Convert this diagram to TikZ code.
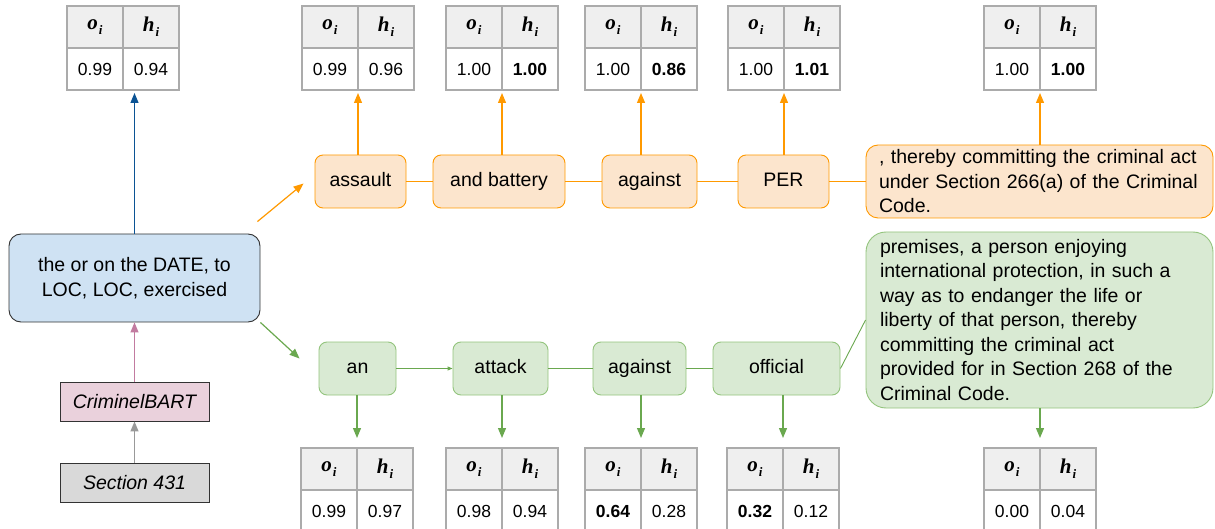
\documentclass[tikz,border=0pt]{standalone}
\usepackage{fontspec}
\setmainfont{Liberation Sans}
\newfontfamily\hdrfont{Liberation Serif}
\usetikzlibrary{arrows.meta}

\definecolor{orangeln}{HTML}{FF9900}
\definecolor{orangebg}{HTML}{FCE5CD}
\definecolor{greenln}{HTML}{6AA84F}
\definecolor{greenbd}{HTML}{93C47D}
\definecolor{greenbg}{HTML}{D9EAD3}
\definecolor{bluebg}{HTML}{CFE2F3}
\definecolor{blueln}{HTML}{0B5394}
\definecolor{pinkbg}{HTML}{EAD1DC}
\definecolor{pinkln}{HTML}{C27BA0}
\definecolor{greybg}{HTML}{D9D9D9}
\definecolor{greyln}{HTML}{999999}
\definecolor{cellbd}{HTML}{ABABAB}
\definecolor{cellhd}{HTML}{EFEFEF}

\newcommand{\hdr}[1]{{\hdrfont\bfseries\itshape\fontsize{21}{21}\selectfont #1\kern1pt\raisebox{-0.55ex}{\fontsize{13}{13}\selectfont i}}}
\newcommand{\scoretab}[5]{%
  \node[hcell, anchor=north east] (#1-oh) at (#2,#3) {\hdr{o}};
  \node[hcell, anchor=north west] (#1-hh) at (#2,#3) {\hdr{h}};
  \node[vcell, anchor=north] (#1-ov) at (#1-oh.south) {#4};
  \node[vcell, anchor=north] (#1-hv) at (#1-hh.south) {#5};
}

\begin{document}
\begin{tikzpicture}[x=1pt, y=-1pt,
  font=\fontsize{19.5}{24.5}\selectfont,
  hcell/.style={draw=cellbd, line width=1.2pt, fill=cellhd, minimum width=56pt, minimum height=42pt, inner sep=0pt, outer sep=0pt},
  vcell/.style={draw=cellbd, line width=1.2pt, fill=white, minimum width=56pt, minimum height=42pt, inner sep=0pt, outer sep=0pt, font=\fontsize{17.5}{20}\selectfont},
  wordo/.style={draw=orangeln, line width=0.9pt, fill=orangebg, rounded corners=8pt, minimum height=53pt, inner sep=0pt, text height=14pt, text depth=4.5pt},
  wordg/.style={draw=greenbd, line width=0.9pt, fill=greenbg, rounded corners=8pt, minimum height=53pt, inner sep=0pt, text height=14pt, text depth=4.5pt},
  plainbox/.style={draw=black!80, line width=0.9pt, minimum width=149pt, minimum height=39pt, inner sep=0pt, font=\fontsize{19.5}{24.5}\selectfont\itshape},
  oarrow/.style={draw=orangeln, line width=1.2pt, -{Triangle[length=10pt,width=8pt]}},
  garrow/.style={draw=greenln, line width=1.2pt, -{Triangle[length=10pt,width=8pt]}},
  oline/.style={draw=orangeln, line width=0.9pt},
  gline/.style={draw=greenln, line width=0.9pt}]
  \useasboundingbox (0,0) rectangle (1215,529);
  \clip (0,0) rectangle (1215,529);

  % input side
  \node[draw=black!80, line width=0.9pt, fill=bluebg, rounded corners=12pt, minimum width=251pt, minimum height=88pt, align=center] (ctx) at (134.5,278) {the or on the DATE, to\\LOC, LOC, exercised};
  \node[plainbox, fill=pinkbg] (model) at (134.5,401.5) {CriminelBART};
  \node[plainbox, fill=greybg] (sec) at (134.5,482.5) {Section 431};

  % upper beam
  \node[wordo, minimum width=91pt] (o1) at (360.5,181.5) {assault};
  \node[wordo, minimum width=132pt] (o2) at (499,181.5) {and battery};
  \node[wordo, minimum width=95pt] (o3) at (649.5,181.5) {against};
  \node[wordo, minimum width=91pt] (o4) at (783.5,181.5) {PER};
  \node[wordo, rounded corners=12pt, minimum width=347pt, minimum height=73pt, text width=321pt, inner xsep=13pt, text height=, text depth=, align=left] (o5) at (1039.5,181.5)
    {, thereby committing the criminal act\\under Section 266(a) of the Criminal\\Code.};

  % lower beam
  \node[wordg, minimum width=77pt] (g1) at (357.5,368.5) {an};
  \node[wordg, minimum width=95pt] (g2) at (500.5,368.5) {attack};
  \node[wordg, minimum width=93pt] (g3) at (639.5,368.5) {against};
  \node[wordg, minimum width=127pt] (g4) at (776.5,368.5) {official};
  \node[wordg, rounded corners=20pt, minimum width=347pt, minimum height=176pt, text width=319pt, inner xsep=14pt, text height=, text depth=, align=left] (g5) at (1039.5,320)
    {premises, a person enjoying\\international protection, in such a\\way as to endanger the life or\\liberty of that person, thereby\\committing the criminal act\\provided for in Section 268 of the\\Criminal Code.};

  % score tables
  \scoretab{t0}{123}{6}{0.99}{0.94}
  \scoretab{t1}{358}{6}{0.99}{0.96}
  \scoretab{t2}{502}{6}{1.00}{\textbf{1.00}}
  \scoretab{t3}{641}{6}{1.00}{\textbf{0.86}}
  \scoretab{t4}{784}{6}{1.00}{\textbf{1.01}}
  \scoretab{t5}{1040}{6}{1.00}{\textbf{1.00}}
  \scoretab{b1}{357}{448}{0.99}{0.97}
  \scoretab{b2}{502}{448}{0.98}{0.94}
  \scoretab{b3}{641}{448}{\textbf{0.64}}{0.28}
  \scoretab{b4}{783}{448}{\textbf{0.32}}{0.12}
  \scoretab{b5}{1040}{448}{0.00}{0.04}

  % connectors
  \draw[greyln, line width=1.2pt, -{Triangle[length=10pt,width=8pt]}] (sec) -- (model);
  \draw[pinkln, line width=1.2pt, -{Triangle[length=10pt,width=8pt]}] (model) -- (ctx);
  \draw[blueln, line width=1.2pt, -{Triangle[length=10pt,width=8pt]}, shorten >=3pt] (ctx.north) -- (ctx.north |- t0-ov.south);
  \draw[oarrow] ([shift={(-3,-12)}]ctx.north east) -- ([shift={(-11,2)}]o1.west);
  \draw[garrow] (ctx.south east) -- ([shift={(-19,-10)}]g1.west);

  \draw[oline] (o1) -- (o2);
  \draw[oline] (o2) -- (o3);
  \draw[oline] (o3) -- (o4);
  \draw[oline] (o4) -- (o5);
  \draw[oarrow, shorten >=3pt] (o1.north -| t1-ov.south east) -- (t1-ov.south east);
  \draw[oarrow, shorten >=3pt] (o2.north -| t2-ov.south east) -- (t2-ov.south east);
  \draw[oarrow, shorten >=3pt] (o3.north -| t3-ov.south east) -- (t3-ov.south east);
  \draw[oarrow, shorten >=3pt] (o4.north -| t4-ov.south east) -- (t4-ov.south east);
  \draw[oarrow, shorten >=3pt] (o5.north -| t5-ov.south east) -- (t5-ov.south east);

  \draw[gline, -{Triangle[length=5pt,width=4pt]}] (g1) -- (g2);
  \draw[gline] (g2) -- (g3);
  \draw[gline] (g3) -- (g4);
  \draw[gline] (g4.east) -- (g5.west);
  \draw[garrow, shorten >=10pt] (g1.south -| b1-oh.north east) -- (b1-oh.north east);
  \draw[garrow, shorten >=10pt] (g2.south -| b2-oh.north east) -- (b2-oh.north east);
  \draw[garrow, shorten >=10pt] (g3.south -| b3-oh.north east) -- (b3-oh.north east);
  \draw[garrow, shorten >=10pt] (g4.south -| b4-oh.north east) -- (b4-oh.north east);
  \draw[garrow, shorten >=10pt] (g5.south -| b5-oh.north east) -- (b5-oh.north east);
\end{tikzpicture}
\end{document}
